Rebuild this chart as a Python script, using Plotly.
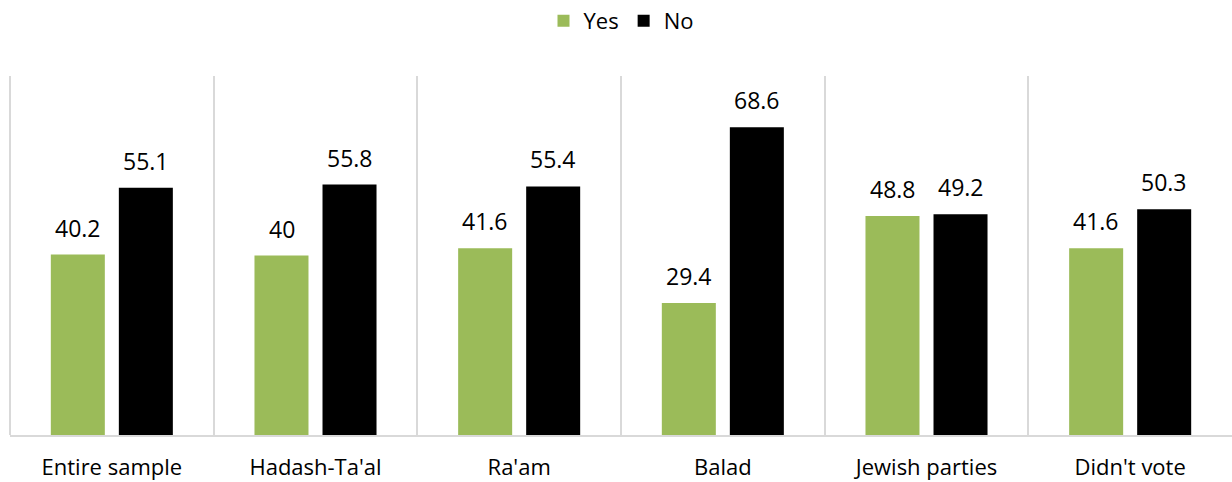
import plotly.graph_objects as go

categories = ["Entire sample", "Hadash-Ta'al", "Ra'am", "Balad", "Jewish parties", "Didn't vote"]
yes_values = [40.2, 40, 41.6, 29.4, 48.8, 41.6]
no_values = [55.1, 55.8, 55.4, 68.6, 49.2, 50.3]

GREEN = "#9BBB59"
BLACK = "#000000"
GRID = "#D9D9D9"
FONT = "Open Sans, sans-serif"

fig = go.Figure()
fig.add_trace(go.Bar(name="Yes", x=categories, y=yes_values, marker_color=GREEN,
                     marker_line_width=0, hoverinfo="skip"))
fig.add_trace(go.Bar(name="No", x=categories, y=no_values, marker_color=BLACK,
                     marker_line_width=0, hoverinfo="skip"))

annotations = []
for vals, xs in ((yes_values, -34), (no_values, 34)):
    for c, v in zip(categories, vals):
        annotations.append(dict(x=c, y=v, xref="x", yref="y", text=f"{v:g}",
                                showarrow=False, xshift=xs, yshift=27,
                                font=dict(family=FONT, size=23, color="#000000")))

fig.add_shape(type="line", xref="paper", yref="paper", x0=0, x1=0, y0=0, y1=1,
              line=dict(color=GRID, width=2), layer="below")

fig.update_layout(
    width=1232, height=482,
    margin=dict(l=10, r=0, t=76, b=47),
    paper_bgcolor="white", plot_bgcolor="white",
    barmode="group", bargap=0.332, bargroupgap=0.206,
    font=dict(family=FONT, size=22, color="#000000"),
    legend=dict(orientation="h", x=0.5, xanchor="center", y=1.0, yref="container",
                yanchor="top", font=dict(family=FONT, size=22), itemwidth=30,
                traceorder="normal"),
    annotations=annotations,
    xaxis=dict(tickson="boundaries", showgrid=True, gridcolor=GRID, gridwidth=2,
               showline=True, linecolor=GRID, linewidth=2, ticks="",
               ticklabelstandoff=12, tickfont=dict(family=FONT, size=22)),
    yaxis=dict(range=[0, 80], showgrid=False, showticklabels=False, zeroline=False,
               showline=False),
)

fig.write_html("out.html", config={"displayModeBar": False},
               post_script="document.body.style.margin='0';")
